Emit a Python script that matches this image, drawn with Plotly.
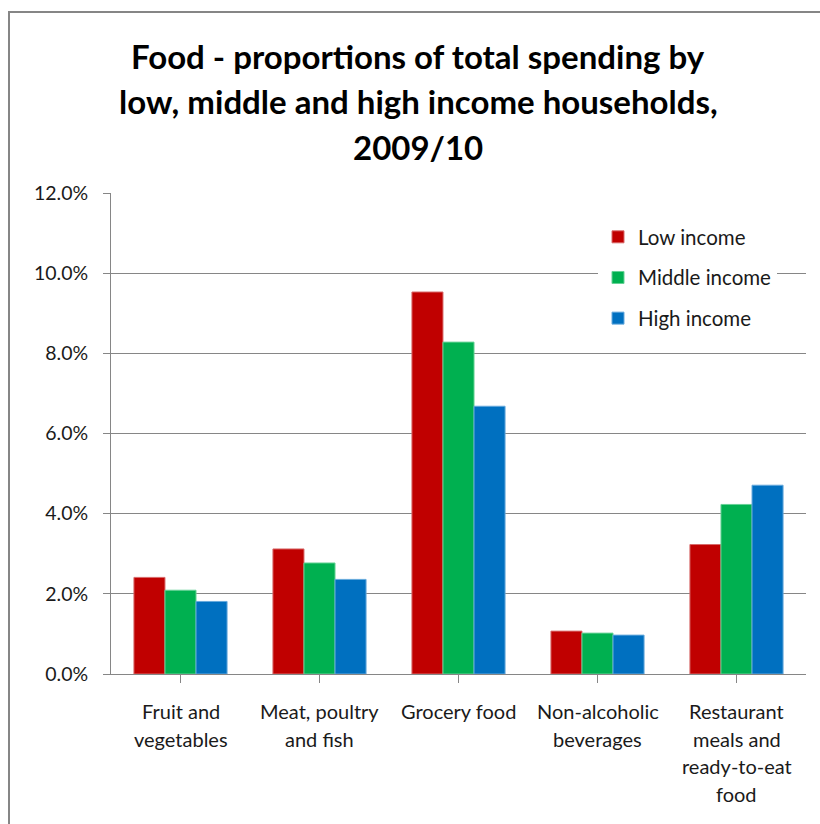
import plotly.graph_objects as go

# Spending categories and shares of total household spending (%)
categories = [
    "Fruit and<br>vegetables",
    "Meat, poultry<br>and fish",
    "Grocery food",
    "Non-alcoholic<br>beverages",
    "Restaurant<br>meals and<br>ready-to-eat<br>food",
]
low_income = [2.41, 3.12, 9.53, 1.07, 3.23]
middle_income = [2.09, 2.77, 8.28, 1.02, 4.23]
high_income = [1.81, 2.36, 6.68, 0.97, 4.71]

series_names = ["Low income", "Middle income", "High income"]
series_values = [low_income, middle_income, high_income]
fill_colors = ["#C00000", "#00B050", "#0070C0"]
edge_colors = ["#D86A6A", "#66D196", "#66A9DC"]

title_lines = [
    "Food - proportions of total spending by",
    "low, middle and high income households,",
    "2009/10",
]

y_ticks = [0, 2, 4, 6, 8, 10, 12]

FONT = "Lato, Calibri, 'Open Sans', sans-serif"

W, H = 820, 824
ML, MR, MT, MB = 111, 14, 193, 150
PW, PH = W - ML - MR, H - MT - MB


def px_x(px):
    return (px - ML) / PW


def px_y(py):
    return (H - MB - py) / PH


fig = go.Figure()
for i, (name, vals) in enumerate(zip(series_names, series_values)):
    fig.add_trace(
        go.Bar(
            name=name,
            x=list(range(len(categories))),
            y=vals,
            marker=dict(color=fill_colors[i], line=dict(color=edge_colors[i], width=1)),
            legendgroup=name,
        )
    )

annotations = []
# Three-line chart title
for k, line in enumerate(title_lines):
    annotations.append(
        dict(
            text=f"<b>{line}</b>",
            x=px_x(418), y=px_y(56 + 45.5 * k),
            xref="paper", yref="paper",
            xanchor="center", yanchor="middle",
            showarrow=False,
            font=dict(family=FONT, size=33, color="#000000"),
        )
    )

# Category labels, one annotation per text line for even line spacing
for ci, cat in enumerate(categories):
    for li, part in enumerate(cat.split("<br>")):
        annotations.append(
            dict(
                text=part,
                x=ci, y=0,
                xref="x", yref="paper",
                xanchor="center", yanchor="middle",
                yshift=-(37 + 27.7 * li),
                showarrow=False,
                font=dict(family=FONT, size=20, color="#1a1a1a"),
            )
        )

fig.update_layout(
    width=W, height=H,
    margin=dict(l=ML, r=MR, t=MT, b=MB, pad=0),
    paper_bgcolor="white",
    plot_bgcolor="white",
    barmode="group",
    bargap=0.33,
    bargroupgap=0,
    showlegend=True,
    legend=dict(
        x=px_x(598), y=px_y(217),
        xanchor="left", yanchor="top",
        bgcolor="white",
        font=dict(family=FONT, size=20.5, color="#1a1a1a"),
        traceorder="grouped",
        tracegroupgap=11,
        itemwidth=30,
    ),
    annotations=annotations,
    shapes=[
        dict(
            type="rect", xref="paper", yref="paper",
            x0=px_x(9), x1=px_x(880), y0=px_y(12), y1=px_y(900),
            line=dict(color="#868686", width=2),
            fillcolor="rgba(0,0,0,0)",
            layer="below",
        )
    ],
)

fig.update_xaxes(
    range=[-0.5, len(categories) - 0.5],
    tickmode="array",
    tickvals=list(range(len(categories))),
    ticktext=["" for _ in categories],
    tickson="boundaries",
    ticks="outside", ticklen=8, tickcolor="#868686", tickwidth=1,
    showline=True, linecolor="#868686", linewidth=1,
    showgrid=False, zeroline=False,
)

fig.update_yaxes(
    range=[0, 12],
    tickmode="array",
    tickvals=y_ticks,
    ticktext=[f"{v:.1f}%" for v in y_ticks],
    ticks="outside", ticklen=7, tickcolor="#868686", tickwidth=1,
    showline=True, linecolor="#868686", linewidth=1,
    showgrid=True, gridcolor="#868686", gridwidth=1,
    zeroline=False,
    tickfont=dict(family=FONT, size=19.5, color="#1a1a1a"),
    ticklabelstandoff=11,
)

fig.write_html("out.html")
